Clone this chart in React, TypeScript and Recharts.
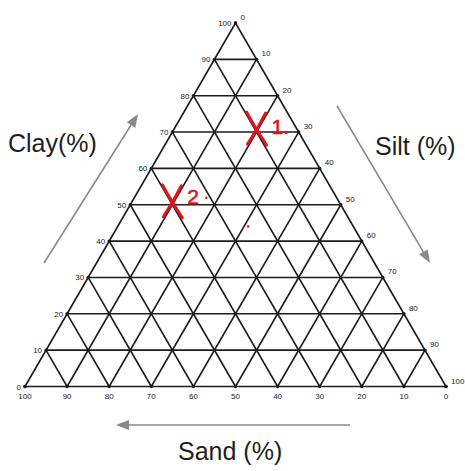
import React from 'react';
import { ComposedChart, XAxis, YAxis, ReferenceLine, Scatter } from 'recharts';

// ---------- data ----------
const STEPS = [0, 10, 20, 30, 40, 50, 60, 70, 80, 90, 100];
const CLAY_TICKS = ['0', '10', '20', '30', '40', '50', '60', '70', '80', '90', '100'];
const SILT_TICKS = ['0', '10', '20', '30', '40', '50', '60', '70', '80', '90', '100'];
const SAND_TICKS = ['0', '10', '20', '30', '40', '50', '60', '70', '80', '90', '100'];
const SAMPLE_NAMES = ['1.', '2'];
const SAMPLE_CLAY = [70, 50];
const SAMPLE_SILT = [20, 10];
const STRAY_CLAY = [44];
const STRAY_SILT = [31];
const AXIS_TITLES = ['Clay(%)', 'Silt (%)', 'Sand (%)'];

// ---------- layout ----------
const W = 465;
const H = 471;
const PX_LEFT = 25;
const PX_RIGHT = 446;
const PX_BASE = 386.5;
const PX_APEX = 23;
const KX = (PX_RIGHT - PX_LEFT) / 100;
const TRI = (Math.sqrt(3) / 2) * 100;
const KY = (PX_BASE - PX_APEX) / TRI;
const XD: [number, number] = [-PX_LEFT / KX, (W - PX_LEFT) / KX];
const YD: [number, number] = [(PX_BASE - H) / KY, PX_BASE / KY];

const tern = (clay: number, silt: number) => ({ x: silt + clay / 2, y: (clay * Math.sqrt(3)) / 2 });
const fromPx = (px: number, py: number) => ({ x: (px - PX_LEFT) / KX, y: (PX_BASE - py) / KY });

const LINE = '#1c1c1c';
const RED = '#e3141b';
const GRAY = '#8a8a8a';
const FONT = '"Liberation Sans", Arial, sans-serif';

const gridSegs: { x: number; y: number }[][] = [];
STEPS.filter((v) => v < 100).forEach((v) => {
  gridSegs.push([tern(v, 0), tern(v, 100 - v)]);
  gridSegs.push([tern(0, v), tern(100 - v, v)]);
  gridSegs.push([tern(100 - v, 0), tern(0, 100 - v)]);
});

const clayPts = STEPS.map((v, i) => ({ ...tern(v, 0), label: CLAY_TICKS[i] }));
const siltPts = STEPS.map((v, i) => ({ ...tern(100 - v, v), label: SILT_TICKS[i] }));
const sandPts = STEPS.map((v, i) => ({ ...tern(0, 100 - v), label: SAND_TICKS[i] }));
const samplePts = SAMPLE_NAMES.map((n, i) => ({ ...tern(SAMPLE_CLAY[i], SAMPLE_SILT[i]), label: n }));
const strayPts = STRAY_CLAY.map((c, i) => tern(c, STRAY_SILT[i]));

const titlePts = [
  { ...fromPx(8, 152), label: AXIS_TITLES[0] },
  { ...fromPx(375, 155), label: AXIS_TITLES[1] },
  { ...fromPx(178, 460), label: AXIS_TITLES[2] },
];
const arrows = [
  [fromPx(44, 263), fromPx(138, 114)],
  [fromPx(337, 106), fromPx(430, 263)],
  [fromPx(350, 425), fromPx(116, 425)],
];

const tickShape = (kind: 'clay' | 'silt' | 'sand') => (p: any) => {
  const { cx, cy, payload } = p;
  let tx = cx;
  let ty = cy;
  let anchor: 'start' | 'middle' | 'end' = 'middle';
  if (kind === 'clay') {
    tx = cx - 4;
    ty = cy + 3;
    anchor = 'end';
  } else if (kind === 'silt') {
    tx = cx + 5;
    ty = cy - 3;
    anchor = 'start';
  } else {
    ty = cy + 12;
  }
  return (
    <g>
      <circle cx={cx} cy={cy} r={1.7} fill={LINE} />
      <text x={tx} y={ty} textAnchor={anchor} fontSize={8} fontFamily={FONT} fill="#222">
        {payload.label}
      </text>
    </g>
  );
};

const titleShape = (p: any) => (
  <text x={p.cx} y={p.cy} fontSize={25} fontFamily={FONT} fill="#1e1e1e">
    {p.payload.label}
  </text>
);

const sampleShape = (p: any) => {
  const { cx, cy, payload } = p;
  const y0 = cy - 3;
  const isTwo = payload.label === '2';
  return (
    <g stroke={RED} fill="none" strokeLinecap="round" strokeWidth={3}>
      <path d={`M ${cx - 10} ${y0 - 17} Q ${cx - 2} ${y0 - 2} ${cx + 10} ${y0 + 16}`} />
      <path d={`M ${cx + 9} ${y0 - 16} Q ${cx + 1} ${y0} ${cx - 9} ${y0 + 15}`} />
      <text
        x={cx + 15}
        y={isTwo ? y0 + 2 : y0 + 5}
        fontSize={21}
        fontFamily={FONT}
        fill={RED}
        stroke={RED}
        strokeWidth={0.6}
      >
        {payload.label}
      </text>
      {isTwo && <circle cx={cx + 34} cy={y0 - 4} r={1.3} fill={RED} strokeWidth={0} />}
    </g>
  );
};

const strayShape = (p: any) => <circle cx={p.cx} cy={p.cy} r={1.3} fill={RED} />;

const arrowShape = (p: any) => {
  const { x1, y1, x2, y2 } = p;
  const ang = Math.atan2(y2 - y1, x2 - x1);
  const L = 13;
  const hw = 5;
  const bx = x2 - L * Math.cos(ang);
  const by = y2 - L * Math.sin(ang);
  const px = -Math.sin(ang) * hw;
  const py = Math.cos(ang) * hw;
  return (
    <g>
      <line x1={x1} y1={y1} x2={bx} y2={by} stroke={GRAY} strokeWidth={1.6} />
      <polygon points={`${x2},${y2} ${bx + px},${by + py} ${bx - px},${by - py}`} fill={GRAY} />
    </g>
  );
};

export default function App() {
  return (
    <div style={{ position: 'absolute', left: 0, top: 0, width: W, height: H, background: '#fff' }}>
      <ComposedChart width={W} height={H} margin={{ top: 0, right: 0, bottom: 0, left: 0 }}>
        <XAxis type="number" dataKey="x" domain={XD} allowDataOverflow hide />
        <YAxis type="number" dataKey="y" domain={YD} allowDataOverflow hide />
        {gridSegs.map((s, i) => (
          <ReferenceLine key={`g${i}`} segment={s} stroke={LINE} strokeWidth={1.6} ifOverflow="visible" />
        ))}
        {arrows.map((s, i) => (
          <ReferenceLine key={`a${i}`} segment={s} ifOverflow="visible" shape={arrowShape} />
        ))}
        <Scatter data={clayPts} shape={tickShape('clay')} isAnimationActive={false} />
        <Scatter data={siltPts} shape={tickShape('silt')} isAnimationActive={false} />
        <Scatter data={sandPts} shape={tickShape('sand')} isAnimationActive={false} />
        <Scatter data={titlePts} shape={titleShape} isAnimationActive={false} />
        <Scatter data={strayPts} shape={strayShape} isAnimationActive={false} />
        <Scatter data={samplePts} shape={sampleShape} isAnimationActive={false} />
      </ComposedChart>
    </div>
  );
}
